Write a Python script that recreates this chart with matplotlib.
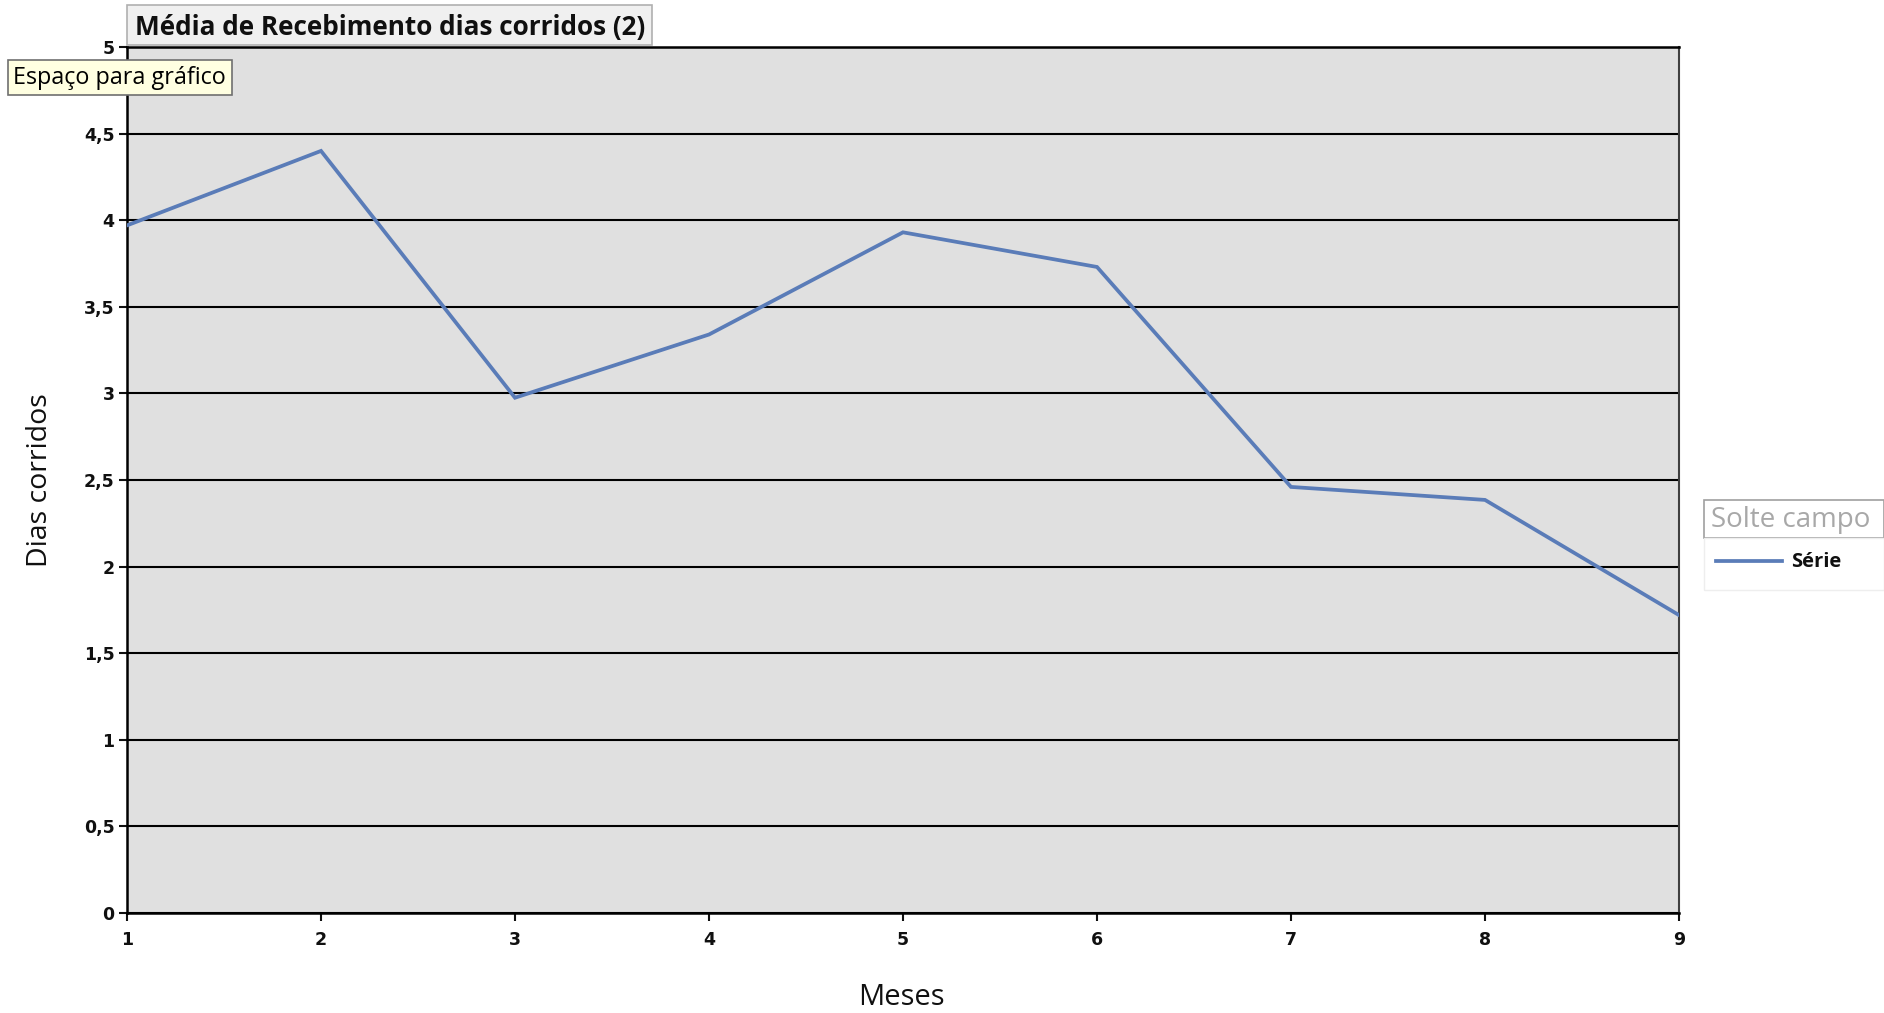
import matplotlib
matplotlib.use("Agg")
import matplotlib.pyplot as plt
from matplotlib.patches import Rectangle
from matplotlib.lines import Line2D

# data
meses = [1, 2, 3, 4, 5, 6, 7, 8, 9]
dias_corridos = [3.97, 4.40, 2.975, 3.34, 3.93, 3.73, 2.46, 2.385, 1.72]
y_ticks = [0, 0.5, 1, 1.5, 2, 2.5, 3, 3.5, 4, 4.5, 5]
y_tick_labels = ['0', '0,5', '1', '1,5', '2', '2,5', '3', '3,5', '4', '4,5', '5']

W, H = 1884, 1013
LINE_BLUE = '#5a7cb8'
FONT = 'Open Sans'


def px(x):
    return x / W


def py(y):
    return 1 - y / H


fig = plt.figure(figsize=(W / 100, H / 100), dpi=100)
ax = fig.add_axes([px(127), py(913), px(1679) - px(127), py(47) - py(913)])
ax.set_facecolor('#e0e0e0')

ax.plot(meses, dias_corridos, color=LINE_BLUE, linewidth=2.7, zorder=3,
        solid_joinstyle='miter')

ax.set_xlim(1, 9)
ax.set_ylim(0, 5)
ax.set_xticks(meses)
ax.set_xticklabels([str(m) for m in meses])
ax.set_yticks(y_ticks)
ax.set_yticklabels(y_tick_labels)
ax.yaxis.grid(True, color='black', linewidth=1.5)
ax.set_axisbelow(True)
for side in ['left', 'bottom', 'top']:
    ax.spines[side].set_linewidth(1.8)
    ax.spines[side].set_color('black')
ax.spines['right'].set_linewidth(1.5)
ax.spines['right'].set_color('#404040')
ax.tick_params(axis='both', direction='out', length=6, width=1.5,
               labelsize=12.5, colors='#101010')
ax.tick_params(axis='x', pad=7)
ax.tick_params(axis='y', pad=3)
for lab in ax.get_xticklabels() + ax.get_yticklabels():
    lab.set_fontfamily('DejaVu Sans')
    lab.set_fontweight('semibold')

fig.text(px(40), py(480), 'Dias corridos', rotation=90, fontsize=20.5,
         family=FONT, ha='center', va='center', color='#101010')
fig.text(px(901), py(997), 'Meses', fontsize=21, family=FONT,
         ha='center', va='center', color='#101010')

# title box
fig.patches.append(Rectangle((px(127), py(45)), px(652) - px(127), py(5) - py(45),
                             transform=fig.transFigure, facecolor='#f0f0f0',
                             edgecolor='#b0b0b0', linewidth=1.2))
fig.text(px(135), py(27.5), 'Média de Recebimento dias corridos (2)', fontsize=18.8,
         family=FONT, fontweight='bold', ha='left', va='center', color='#101010')

# tooltip
fig.patches.append(Rectangle((px(8), py(95)), px(232) - px(8), py(60) - py(95),
                             transform=fig.transFigure, facecolor='#ffffe1',
                             edgecolor='#707070', linewidth=1.2, zorder=5))
fig.text(px(13), py(78), 'Espaço para gráfico', fontsize=16.8, family=FONT,
         ha='left', va='center', color='black', zorder=6)

# legend area
fig.patches.append(Rectangle((px(1704), py(538)), px(1884) - px(1704), py(500) - py(538),
                             transform=fig.transFigure, facecolor='white',
                             edgecolor='#a0a0a0', linewidth=1.2))
fig.text(px(1711), py(520), 'Solte campo', fontsize=20, family=FONT,
         ha='left', va='center', color='#a8a8a8')
fig.patches.append(Rectangle((px(1704), py(590)), px(1884) - px(1704), py(538) - py(590),
                             transform=fig.transFigure, facecolor='white',
                             edgecolor='#eeeeee', linewidth=1.0))
fig.lines.append(Line2D([px(1716), px(1782)], [py(561), py(561)],
                        transform=fig.transFigure, color=LINE_BLUE, linewidth=2.7))
fig.text(px(1791), py(562), 'Série', fontsize=14.5, family=FONT, fontweight='bold',
         ha='left', va='center', color='#101010')

fig.savefig('out.png', dpi=100)
